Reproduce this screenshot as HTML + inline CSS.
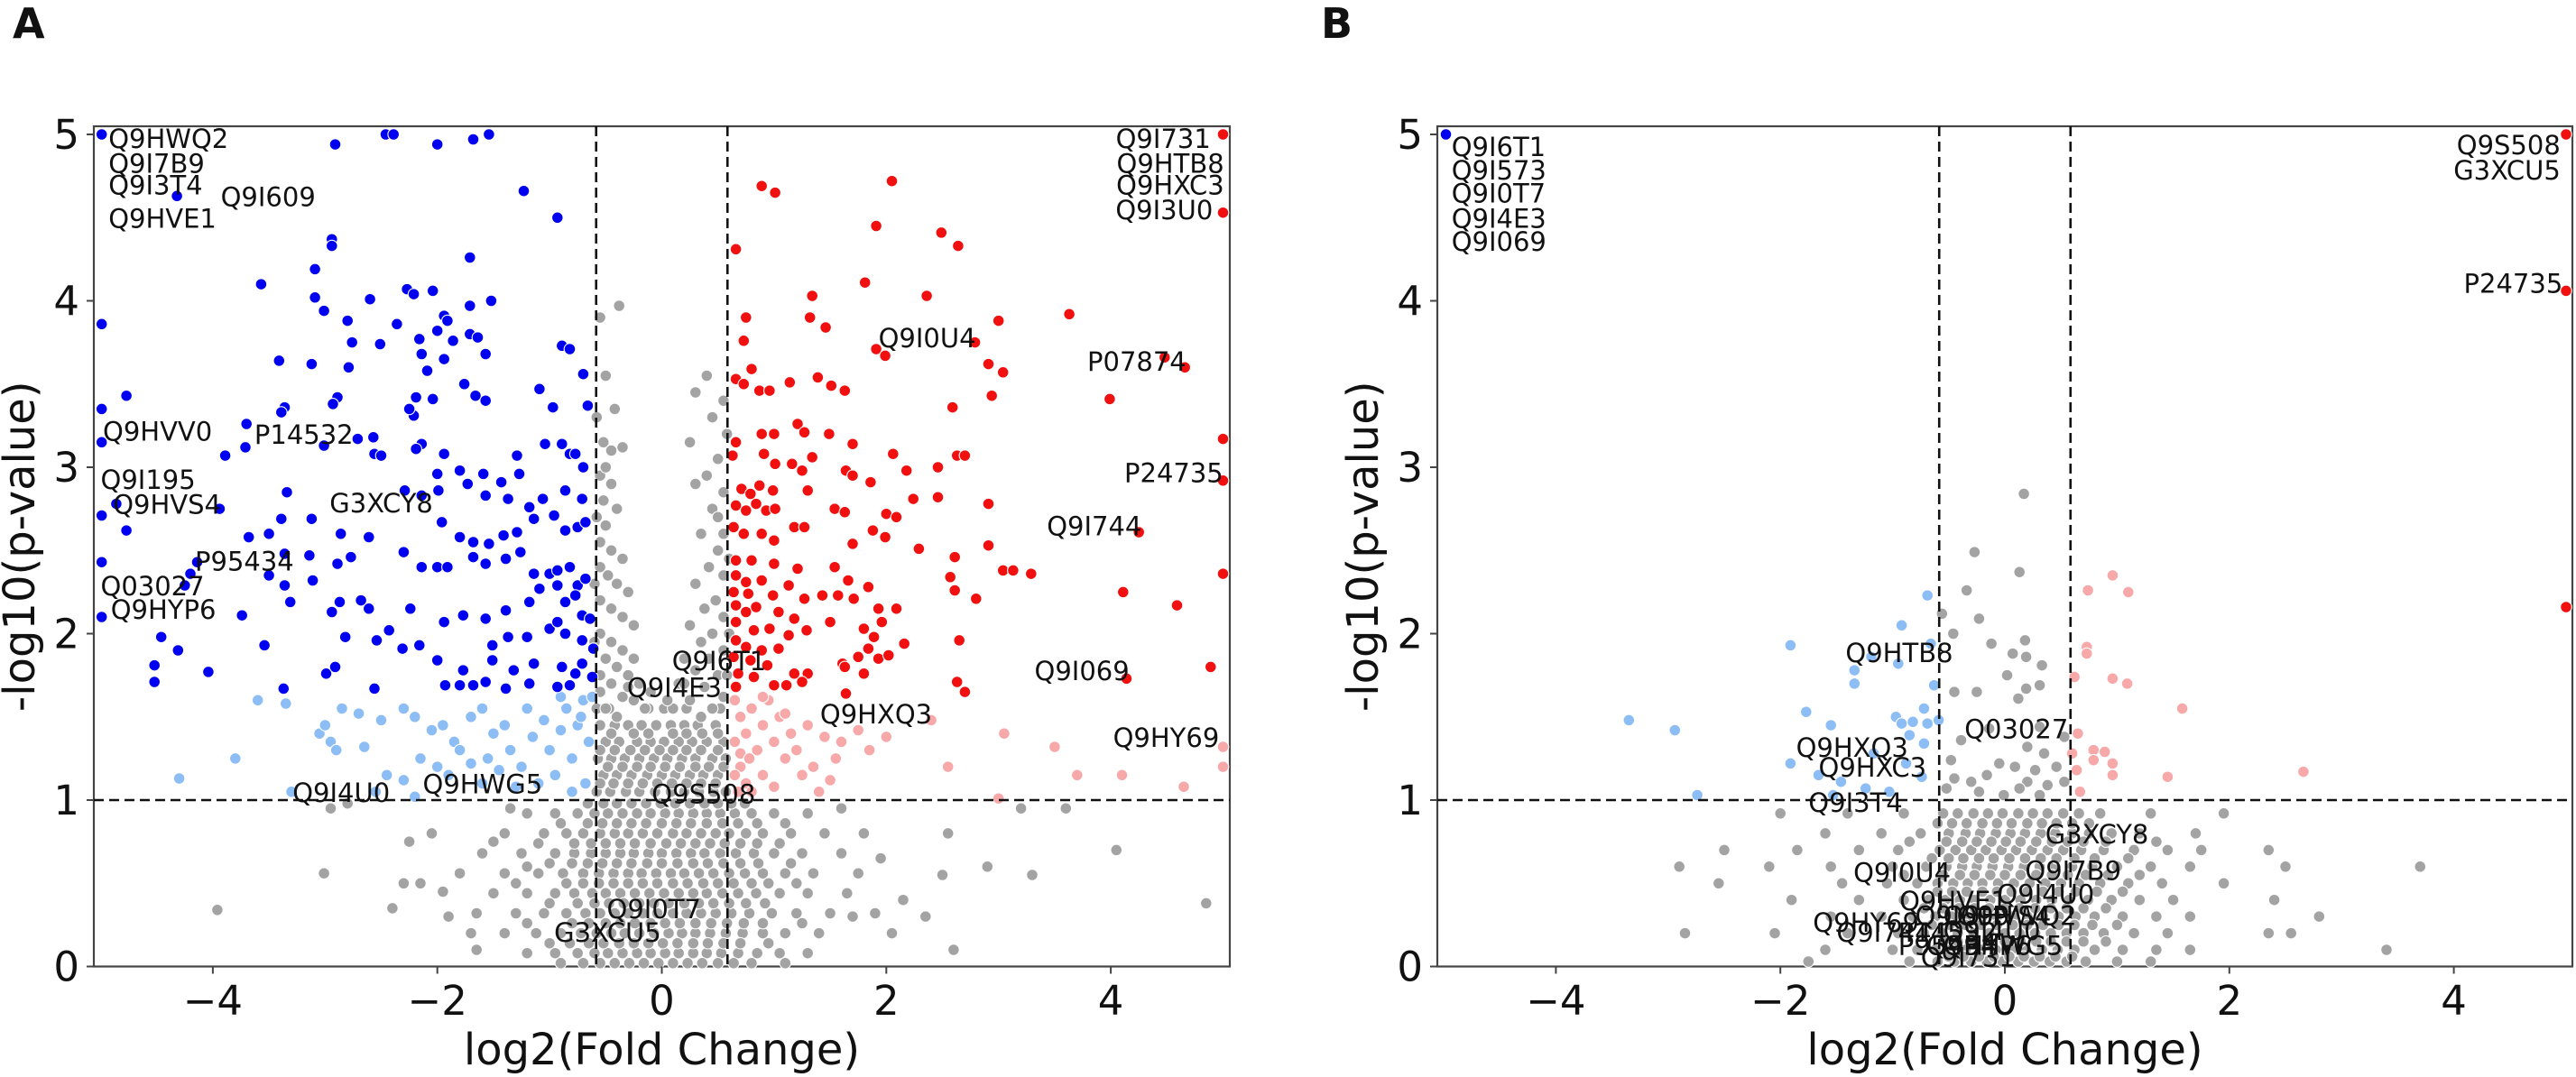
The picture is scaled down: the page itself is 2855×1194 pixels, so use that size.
<!DOCTYPE html>
<html><head><meta charset="utf-8"><style>
html,body{margin:0;padding:0;background:#fff;}
svg{display:block;}
text{font-family:"DejaVu Sans","Liberation Sans",sans-serif;fill:#111;}
</style></head><body>
<svg id="fig" xmlns="http://www.w3.org/2000/svg" width="2855" height="1194" viewBox="0 0 2855 1194">
<rect x="0" y="0" width="2855" height="1194" fill="#fff"/>
<text x="14" y="42" font-size="46" font-weight="bold">A</text>
<text x="1464" y="42" font-size="46" font-weight="bold">B</text>
<g id="panelA"></g>
<g id="panelB"></g>
</svg>
<script>
// ---------- Panel A data ----------
const aBlue = [[-4.99,5],[-2.46,5],[-2.39,5],[-1.54,5],[-1.68,4.97],[-2.0,4.94],[-2.91,4.94],[-4.32,4.63],[-1.23,4.66],[-0.93,4.5],[-2.94,4.37],[-2.94,4.33],[-1.71,4.26],[-3.09,4.19],[-3.57,4.1],[-3.09,4.02],[-2.6,4.01],[-2.27,4.07],[-2.21,4.04],[-2.04,4.06],[-3.01,3.94],[-2.8,3.88],[-4.99,3.86],[-2.36,3.86],[-1.94,3.91],[-1.91,3.88],[-1.71,3.97],[-1.52,4.0],[-2.16,3.77],[-2.0,3.82],[-1.86,3.76],[-1.71,3.8],[-1.64,3.78],[-2.76,3.75],[-2.51,3.74],[-0.89,3.73],[-0.82,3.71],[-3.41,3.64],[-3.12,3.62],[-2.79,3.6],[-2.14,3.68],[-1.94,3.65],[-1.57,3.68],[-0.7,3.56],[-2.09,3.58],[-4.77,3.43],[-4.99,3.35],[-3.36,3.36],[-3.39,3.33],[-2.89,3.42],[-2.93,3.38],[-2.19,3.42],[-2.04,3.41],[-1.76,3.5],[-1.66,3.43],[-1.57,3.4],[-1.09,3.47],[-0.97,3.36],[-0.66,3.37],[-2.21,3.31],[-2.25,3.35],[-4.99,3.15],[-3.7,3.26],[-3.01,3.13],[-2.71,3.17],[-2.57,3.18],[-2.56,3.08],[-2.5,3.07],[-2.14,3.14],[-2.19,3.11],[-1.94,3.08],[-1.29,3.07],[-1.04,3.14],[-0.89,3.14],[-0.82,3.08],[-0.77,3.08],[-3.89,3.07],[-3.71,3.12],[-0.7,3.0],[-2.0,2.96],[-1.8,2.98],[-1.59,2.96],[-1.43,2.91],[-1.27,2.96],[-2.29,2.86],[-2.14,2.83],[-1.99,2.86],[-1.73,2.9],[-1.57,2.83],[-1.37,2.81],[-1.06,2.81],[-0.86,2.86],[-0.71,2.81],[-3.34,2.85],[-3.94,2.75],[-4.99,2.71],[-4.86,2.78],[-4.77,2.62],[-3.12,2.69],[-2.86,2.6],[-2.61,2.58],[-1.96,2.67],[-1.8,2.58],[-1.68,2.55],[-1.54,2.54],[-1.41,2.59],[-1.29,2.61],[-1.18,2.76],[-1.14,2.69],[-0.96,2.71],[-0.86,2.62],[-0.75,2.64],[-0.68,2.67],[-3.39,2.69],[-3.5,2.6],[-3.68,2.58],[-4.14,2.43],[-4.2,2.36],[-3.36,2.48],[-3.14,2.47],[-3.11,2.32],[-3.36,2.29],[-3.31,2.19],[-3.5,2.35],[-2.89,2.42],[-2.77,2.46],[-2.3,2.49],[-2.14,2.4],[-2.0,2.4],[-1.91,2.4],[-1.68,2.46],[-1.57,2.42],[-1.39,2.45],[-1.26,2.49],[-1.14,2.36],[-1.0,2.36],[-0.93,2.38],[-0.82,2.4],[-0.75,2.29],[-0.68,2.33],[-4.99,2.43],[-4.25,2.29],[-4.99,2.1],[-4.46,1.98],[-4.31,1.9],[-4.52,1.81],[-4.52,1.71],[-4.04,1.77],[-3.74,2.11],[-3.54,1.93],[-3.37,1.67],[-2.99,1.76],[-2.94,2.13],[-2.87,2.19],[-2.68,2.2],[-2.61,2.15],[-2.82,1.98],[-2.54,1.96],[-2.43,2.02],[-2.24,2.15],[-2.31,1.91],[-2.16,1.93],[-1.94,2.07],[-1.77,2.11],[-1.57,2.09],[-1.39,2.14],[-1.18,2.19],[-1.09,2.27],[-0.93,2.29],[-0.86,2.19],[-0.77,2.23],[-0.71,2.11],[-0.64,2.09],[-1.51,1.93],[-1.37,1.98],[-1.2,1.98],[-1.0,2.03],[-0.93,2.07],[-0.86,2.0],[-0.71,1.96],[-0.61,1.91],[-1.51,1.84],[-1.32,1.78],[-1.14,1.82],[-0.89,1.8],[-0.77,1.76],[-0.71,1.82],[-0.62,1.74],[-2.0,1.84],[-1.77,1.78],[-1.93,1.69],[-1.8,1.69],[-1.68,1.69],[-1.57,1.71],[-1.39,1.67],[-1.18,1.7],[-0.93,1.68],[-0.82,1.69],[-2.56,1.67],[-2.91,1.8]];
const aLightBlue = [[-3.6,1.6],[-3.35,1.58],[-3.05,1.4],[-3.0,1.45],[-2.95,1.35],[-2.85,1.55],[-2.7,1.52],[-2.65,1.32],[-2.5,1.48],[-2.3,1.55],[-2.2,1.5],[-2.15,1.25],[-2.05,1.42],[-1.95,1.45],[-1.85,1.35],[-1.8,1.3],[-1.7,1.5],[-1.6,1.55],[-1.55,1.25],[-1.5,1.4],[-1.4,1.45],[-1.35,1.3],[-1.25,1.2],[-1.2,1.55],[-1.15,1.38],[-1.05,1.48],[-1.0,1.3],[-0.95,1.15],[-0.9,1.42],[-0.85,1.55],[-0.8,1.25],[-0.75,1.45],[-0.7,1.6],[-0.65,1.35],[-0.68,1.1],[-0.8,1.05],[-1.1,1.1],[-1.3,1.08],[-1.6,1.1],[-1.9,1.15],[-2.3,1.12],[-2.45,1.15],[-2.55,1.05],[-2.2,1.02],[-3.8,1.25],[-4.3,1.13],[-3.3,1.05],[-2.9,1.3],[-1.7,1.22],[-2.0,1.2],[-0.72,1.5],[-0.62,1.62],[-0.9,1.62],[-1.45,1.18]];
const aRed = [[5.0,5.0],[0.89,4.69],[1.01,4.65],[2.05,4.72],[5.0,4.53],[1.91,4.45],[2.49,4.41],[2.64,4.33],[0.66,4.31],[1.81,4.11],[1.34,4.03],[2.36,4.03],[0.75,3.9],[1.32,3.9],[1.46,3.84],[3.0,3.88],[3.63,3.92],[0.73,3.76],[1.91,3.71],[1.99,3.67],[2.79,3.75],[2.91,3.62],[3.04,3.57],[4.48,3.66],[4.66,3.6],[0.8,3.59],[0.66,3.53],[0.73,3.5],[0.87,3.46],[0.96,3.46],[1.14,3.51],[1.39,3.54],[1.51,3.49],[1.63,3.46],[2.59,3.36],[2.94,3.43],[3.99,3.41],[0.66,3.15],[0.89,3.2],[1.0,3.2],[1.21,3.26],[1.27,3.21],[1.49,3.2],[1.7,3.14],[2.06,3.08],[2.63,3.07],[2.7,3.07],[5.0,3.17],[0.63,3.07],[0.91,3.08],[1.01,3.02],[1.16,3.02],[1.25,2.98],[1.34,3.06],[1.64,2.98],[1.7,2.95],[1.86,2.91],[2.18,2.98],[2.46,3.0],[5.0,2.92],[0.71,2.87],[0.79,2.84],[0.87,2.89],[0.99,2.86],[1.3,2.86],[2.24,2.81],[2.46,2.82],[2.91,2.78],[0.66,2.77],[0.75,2.74],[0.84,2.78],[0.93,2.74],[1.01,2.75],[1.18,2.64],[1.27,2.64],[1.54,2.75],[1.63,2.73],[2.0,2.72],[2.09,2.7],[4.25,2.61],[0.64,2.64],[0.73,2.6],[0.89,2.6],[1.0,2.56],[1.88,2.62],[1.99,2.58],[1.7,2.54],[2.29,2.51],[2.91,2.53],[0.66,2.44],[0.8,2.44],[1.0,2.42],[1.21,2.39],[1.54,2.4],[2.61,2.46],[3.04,2.38],[3.13,2.38],[3.29,2.36],[5.0,2.36],[0.66,2.35],[0.75,2.31],[0.89,2.32],[1.13,2.29],[1.66,2.32],[1.84,2.28],[2.57,2.34],[2.61,2.26],[2.8,2.21],[4.11,2.25],[0.64,2.25],[0.77,2.24],[0.99,2.23],[1.27,2.21],[1.43,2.23],[1.57,2.23],[1.71,2.21],[4.59,2.17],[0.66,2.17],[0.75,2.13],[0.84,2.16],[1.04,2.13],[1.18,2.09],[1.93,2.15],[2.09,2.15],[0.66,2.07],[0.82,2.02],[0.96,2.03],[1.13,1.99],[1.29,2.02],[1.5,2.07],[1.8,2.03],[1.96,2.07],[4.89,1.8],[0.66,1.96],[0.75,1.92],[0.89,1.9],[1.04,1.91],[1.89,1.98],[2.16,1.94],[2.65,1.96],[1.84,1.91],[0.64,1.86],[0.79,1.84],[0.94,1.81],[1.61,1.82],[1.75,1.86],[1.93,1.85],[2.02,1.87],[0.68,1.76],[0.82,1.74],[1.0,1.69],[1.18,1.76],[1.3,1.76],[1.8,1.76],[1.63,1.8],[0.66,1.68],[1.11,1.69],[1.25,1.71],[1.64,1.64],[2.63,1.71],[2.7,1.65],[4.14,1.73]];
const aPink = [[0.65,1.6],[0.7,1.5],[0.75,1.4],[0.8,1.55],[0.85,1.3],[0.9,1.45],[0.95,1.6],[1.0,1.35],[1.05,1.5],[1.1,1.25],[0.7,1.2],[0.75,1.1],[0.8,1.05],[0.9,1.15],[1.0,1.08],[1.15,1.4],[1.2,1.3],[1.3,1.45],[1.35,1.2],[0.65,1.35],[0.7,1.28],[0.68,1.05],[1.25,1.15],[1.5,1.12],[1.55,1.25],[1.4,1.05],[1.6,1.35],[1.75,1.42],[2.0,1.38],[1.85,1.3],[2.4,1.48],[2.55,1.2],[3.05,1.4],[3.5,1.32],[3.7,1.15],[4.1,1.15],[4.65,1.08],[5.0,1.32],[5.0,1.2],[3.0,1.01],[1.1,1.52],[0.9,1.62],[0.78,1.25],[1.45,1.38],[0.65,1.15]];
const aGrayArms = [[-0.55,3.9],[-0.38,3.97],[-0.5,3.55],[-0.42,3.35],[-0.52,3.15],[-0.45,3.1],[-0.35,3.12],[-0.55,2.95],[-0.45,2.9],[-0.52,2.8],[-0.4,2.75],[-0.5,2.65],[-0.55,2.55],[-0.45,2.5],[-0.35,2.45],[-0.55,2.4],[-0.48,2.35],[-0.4,2.3],[-0.3,2.25],[-0.55,2.2],[-0.45,2.15],[-0.35,2.1],[-0.25,2.05],[-0.55,2.0],[-0.45,1.95],[-0.35,1.9],[-0.25,1.85],[-0.5,1.85],[-0.4,1.8],[-0.55,1.75],[-0.3,1.75],[-0.2,1.7],[-0.45,1.7],[-0.55,1.65],[-0.35,1.62],[-0.25,1.6],[-0.15,1.55],[-0.5,1.55],[-0.4,1.5],[0.4,3.55],[0.3,3.45],[0.55,3.4],[0.45,3.3],[0.25,3.15],[0.5,3.05],[0.4,2.95],[0.55,2.85],[0.3,2.9],[0.45,2.75],[0.55,2.6],[0.35,2.6],[0.5,2.5],[0.42,2.4],[0.55,2.35],[0.3,2.3],[0.48,2.2],[0.38,2.15],[0.55,2.1],[0.25,2.05],[0.45,2.0],[0.35,1.95],[0.55,1.9],[0.2,1.85],[0.42,1.85],[0.3,1.78],[0.5,1.75],[0.15,1.7],[0.38,1.68],[0.55,1.62],[0.25,1.6],[0.1,1.55],[0.45,1.55],[0.35,1.5],[-0.58,3.3],[-0.5,3.0],[-0.58,2.7],[-0.6,2.3],[-0.6,1.95],[0.58,3.2],[0.5,2.7],[0.6,2.45],[0.6,2.0],[0.58,1.75],[-0.1,1.65],[0.05,1.6],[-0.3,1.68],[0.2,1.7],[-2.95,0.95],[-2.8,0.98],[-3.01,0.56],[-3.96,0.34],[-2.25,0.75],[-2.3,0.5],[-2.4,0.35],[-2.15,0.5],[-1.95,0.45],[-1.7,0.2],[-1.9,0.3],[-1.65,0.1],[-2.05,0.8],[-1.5,0.75],[-1.35,0.95],[-1.2,0.6],[1.8,0.8],[1.95,0.65],[2.15,0.4],[2.35,0.3],[2.5,0.55],[2.6,0.1],[2.9,0.6],[3.2,0.95],[2.55,0.8],[1.7,0.3],[1.6,0.95],[2.05,0.2],[4.05,0.7],[4.85,0.38],[3.6,0.95],[3.3,0.55]];
const aGrayRowY = [1.45,1.35,1.25,1.15,1.05,0.92,0.8,0.68,0.56,0.44,0.32,0.2,0.08,1.55,1.4,1.3,1.2,1.1,0.98,0.86,0.74,0.62,0.5,0.38,0.26,0.14,0.02];
const aGrayRowX = [
 [-0.55,-0.42,-0.3,-0.18,-0.05,0.08,0.2,0.32,0.48],
 [-0.5,-0.38,-0.22,-0.1,0.02,0.15,0.27,0.4,0.55],
 [-0.57,-0.45,-0.33,-0.2,-0.07,0.05,0.18,0.3,0.45,0.57],
 [-0.52,-0.4,-0.27,-0.13,0.0,0.12,0.25,0.37,0.5],
 [-0.58,-0.46,-0.32,-0.2,-0.06,0.08,0.2,0.33,0.46,0.57],
 [-1.2,-0.95,-0.75,-0.6,-0.48,-0.35,-0.22,-0.1,0.03,0.15,0.28,0.4,0.52,0.65,0.8,1.0,1.3],
 [-1.4,-1.05,-0.85,-0.7,-0.55,-0.42,-0.3,-0.17,-0.04,0.1,0.22,0.35,0.48,0.6,0.75,0.9,1.15,1.45],
 [-1.6,-1.25,-0.95,-0.78,-0.63,-0.5,-0.37,-0.25,-0.12,0.0,0.13,0.26,0.38,0.52,0.66,0.82,1.0,1.25,1.6],
 [-1.8,-1.4,-1.1,-0.88,-0.7,-0.56,-0.43,-0.3,-0.18,-0.05,0.08,0.2,0.33,0.46,0.6,0.74,0.9,1.1,1.35,1.75],
 [-1.5,-1.2,-0.95,-0.78,-0.62,-0.5,-0.37,-0.24,-0.11,0.02,0.15,0.28,0.4,0.54,0.68,0.84,1.05,1.3,1.65],
 [-1.65,-1.3,-1.05,-0.85,-0.68,-0.55,-0.42,-0.3,-0.17,-0.04,0.1,0.22,0.35,0.48,0.62,0.78,0.98,1.2,1.5,1.9],
 [-1.4,-1.12,-0.9,-0.72,-0.58,-0.45,-0.33,-0.2,-0.07,0.06,0.18,0.3,0.43,0.57,0.72,0.9,1.1,1.4],
 [-1.2,-0.95,-0.75,-0.6,-0.48,-0.35,-0.22,-0.1,0.03,0.15,0.28,0.4,0.53,0.68,0.85,1.05,1.3],
 [-0.58,-0.47,-0.12,0.02,0.22,0.52],
 [-0.45,-0.25,-0.12,0.1,0.22,0.36,0.5],
 [-0.55,-0.42,-0.28,-0.15,-0.02,0.1,0.22,0.35,0.5],
 [-0.48,-0.35,-0.22,-0.1,0.03,0.16,0.3,0.42,0.55],
 [-0.55,-0.43,-0.3,-0.17,-0.04,0.09,0.22,0.35,0.48],
 [-0.66,-0.52,-0.4,-0.27,-0.14,-0.01,0.12,0.25,0.38,0.5,0.62,0.74],
 [-0.9,-0.66,-0.53,-0.4,-0.27,-0.14,0.0,0.13,0.26,0.4,0.54,0.68,0.85,1.1],
 [-1.1,-0.78,-0.63,-0.5,-0.37,-0.24,-0.1,0.04,0.17,0.3,0.43,0.56,0.7,0.85,1.05],
 [-1.0,-0.8,-0.66,-0.53,-0.4,-0.27,-0.13,0.0,0.14,0.28,0.41,0.55,0.7,0.86,1.15],
 [-1.3,-0.85,-0.7,-0.56,-0.43,-0.3,-0.17,-0.04,0.1,0.23,0.37,0.5,0.64,0.8,0.95,1.2],
 [-1.0,-0.75,-0.6,-0.47,-0.34,-0.2,-0.07,0.06,0.2,0.33,0.46,0.6,0.75,0.92],
 [-1.2,-0.8,-0.65,-0.5,-0.37,-0.24,-0.1,0.03,0.16,0.3,0.44,0.58,0.73,0.9,1.25],
 [-1.0,-0.82,-0.65,-0.52,-0.38,-0.25,-0.12,0.01,0.14,0.28,0.41,0.55,0.7,0.95],
 [-0.9,-0.7,-0.55,-0.42,-0.29,-0.16,-0.03,0.1,0.23,0.36,0.5,0.64,0.8,1.1]
];
const aLabels = [["Q9HWQ2",-4.93,4.92,"start"],["Q9I7B9",-4.93,4.77,"start"],["Q9I3T4",-4.93,4.64,"start"],["Q9HVE1",-4.93,4.44,"start"],["Q9I609",-3.93,4.57,"start"],["Q9HVV0",-4.98,3.16,"start"],["P14532",-3.63,3.14,"start"],["Q9I195",-5.0,2.87,"start"],["Q9HVS4",-4.89,2.72,"start"],["G3XCY8",-2.96,2.73,"start"],["P95434",-4.16,2.38,"start"],["Q03027",-5.0,2.23,"start"],["Q9HYP6",-4.91,2.09,"start"],["Q9I6T1",0.09,1.78,"start"],["Q9I4E3",-0.31,1.62,"start"],["Q9HXQ3",1.41,1.46,"start"],["Q9I4U0",-3.29,0.99,"start"],["Q9HWG5",-2.13,1.04,"start"],["Q9S508",-0.09,0.98,"start"],["Q9I0T7",-0.49,0.29,"start"],["G3XCU5",-0.96,0.15,"start"],["Q9I731",4.89,4.92,"end"],["Q9HTB8",5.01,4.77,"end"],["Q9HXC3",5.01,4.64,"end"],["Q9I3U0",4.91,4.49,"end"],["Q9I0U4",1.93,3.72,"start"],["P07874",3.79,3.58,"start"],["P24735",4.12,2.91,"start"],["Q9I744",3.43,2.59,"start"],["Q9I069",3.32,1.72,"start"],["Q9HY69",4.02,1.32,"start"]];

// ---------- Panel B data ----------
const bBlue = [[-4.98,5.0]];
const bRed = [[5.0,5.0],[5.0,4.06],[5.0,2.16]];
const bLightBlue = [[-3.35,1.48],[-2.94,1.42],[-2.74,1.03],[-1.91,1.93],[-1.91,1.22],[-1.77,1.53],[-1.66,1.15],[-1.55,1.45],[-1.46,1.11],[-1.34,1.78],[-1.34,1.7],[-1.19,1.86],[-0.95,1.82],[-0.92,2.05],[-0.69,2.23],[-0.97,1.5],[-0.92,1.46],[-0.82,1.47],[-0.72,1.55],[-0.69,1.46],[-0.63,1.69],[-0.59,1.48],[-0.85,1.39],[-0.72,1.34],[-0.88,1.22],[-0.74,1.14],[-1.24,1.07],[-1.03,1.05],[-1.53,1.03],[-1.17,1.28],[-0.66,1.94]];
const bPink = [[0.74,2.26],[0.96,2.35],[1.1,2.25],[0.73,1.92],[0.73,1.88],[0.62,1.74],[0.96,1.73],[1.09,1.7],[1.58,1.55],[0.65,1.4],[0.79,1.3],[0.89,1.29],[0.79,1.24],[0.96,1.22],[0.96,1.15],[1.45,1.14],[2.66,1.17],[0.67,1.05],[0.64,1.18],[0.6,1.28]];
const bGrayScatter = [[0.17,2.84],[-0.27,2.49],[-0.34,2.26],[0.13,2.37],[-0.56,2.12],[-0.23,2.09],[-0.46,2.0],[-0.12,1.94],[0.18,1.96],[0.07,1.88],[0.19,1.86],[0.33,1.81],[0.02,1.75],[0.19,1.67],[0.31,1.69],[-0.45,1.65],[-0.25,1.65],[0.12,1.61],[-0.14,1.43],[0.31,1.44],[0.53,1.38],[-0.39,1.36],[0.2,1.32],[0.35,1.28],[-0.48,1.24],[-0.05,1.22],[0.09,1.2],[0.27,1.18],[0.46,1.2],[-0.45,1.13],[-0.3,1.11],[-0.16,1.15],[0.2,1.11],[0.38,1.09],[0.53,1.11],[-0.52,1.07],[-0.23,1.05],[-0.01,1.03],[0.13,1.07],[0.31,1.03]];
const bGrayRowY = [0.92,0.8,0.7,0.6,0.5,0.4,0.3,0.2,0.1,0.03,0.86,0.75,0.65,0.55,0.45,0.35,0.25,0.15,0.06];
const bGrayRowX = [
 [-2.0,-1.4,-0.9,-0.55,-0.42,-0.28,-0.15,-0.02,0.12,0.25,0.38,0.52,0.66,0.85,1.3,1.95],
 [-1.6,-1.1,-0.75,-0.5,-0.35,-0.22,-0.08,0.05,0.18,0.32,0.45,0.6,0.75,0.95,1.2,1.7],
 [-2.5,-1.85,-1.3,-0.95,-0.58,-0.44,-0.3,-0.17,-0.03,0.1,0.24,0.38,0.52,0.68,0.88,1.15,1.45,1.75,2.35],
 [-2.9,-2.1,-1.55,-1.0,-0.7,-0.52,-0.38,-0.25,-0.11,0.03,0.17,0.31,0.45,0.6,0.78,1.0,1.3,1.65,2.5,3.7],
 [-2.55,-1.45,-1.05,-0.78,-0.6,-0.46,-0.33,-0.2,-0.06,0.08,0.22,0.36,0.5,0.66,0.85,1.1,1.4,1.95],
 [-1.9,-1.3,-0.9,-0.68,-0.53,-0.4,-0.27,-0.13,0.0,0.14,0.28,0.42,0.57,0.74,0.95,1.2,1.5,2.4],
 [-1.55,-1.1,-0.82,-0.62,-0.47,-0.34,-0.2,-0.07,0.07,0.2,0.34,0.48,0.63,0.8,1.05,1.35,1.65,2.8],
 [-2.85,-2.05,-1.4,-0.95,-0.72,-0.56,-0.42,-0.28,-0.14,0.0,0.13,0.27,0.41,0.55,0.7,0.88,1.15,1.45,2.35,2.55],
 [-1.6,-1.0,-0.78,-0.62,-0.48,-0.35,-0.21,-0.08,0.06,0.19,0.33,0.47,0.62,0.8,1.05,1.35,1.65,3.4],
 [-1.75,-0.85,-0.6,-0.45,-0.3,-0.16,-0.02,0.12,0.26,0.4,0.55,0.72,1.0,1.3],
 [-0.6,-0.47,-0.34,-0.2,-0.07,0.06,0.2,0.33,0.46,0.6,0.75],
 [-0.85,-0.52,-0.38,-0.25,-0.12,0.01,0.14,0.28,0.42,0.56,0.7,0.9,1.35],
 [-0.65,-0.5,-0.37,-0.23,-0.1,0.04,0.18,0.32,0.46,0.62,0.8,1.1],
 [-0.9,-0.55,-0.4,-0.27,-0.13,0.0,0.14,0.28,0.42,0.56,0.72,0.92,1.2],
 [-0.6,-0.47,-0.34,-0.2,-0.07,0.06,0.2,0.34,0.48,0.63,0.82,1.05],
 [-0.72,-0.55,-0.41,-0.27,-0.14,0.0,0.13,0.27,0.41,0.55,0.7,0.9],
 [-0.65,-0.49,-0.35,-0.21,-0.07,0.07,0.2,0.34,0.48,0.62,0.78,1.0],
 [-0.55,-0.42,-0.28,-0.14,0.0,0.14,0.28,0.41,0.55,0.7,0.9],
 [-0.5,-0.37,-0.23,-0.1,0.04,0.17,0.31,0.45,0.6]
];
const bLabels = [["Q9I6T1",-4.93,4.87,"start"],["Q9I573",-4.93,4.73,"start"],["Q9I0T7",-4.93,4.59,"start"],["Q9I4E3",-4.93,4.44,"start"],["Q9I069",-4.93,4.30,"start"],["Q9S508",4.95,4.88,"end"],["G3XCU5",4.95,4.73,"end"],["P24735",4.97,4.05,"end"],["Q9HTB8",-1.42,1.83,"start"],["Q03027",-0.36,1.37,"start"],["Q9HXQ3",-1.86,1.26,"start"],["Q9HXC3",-1.66,1.14,"start"],["Q9I3T4",-1.75,0.93,"start"],["G3XCY8",0.36,0.74,"start"],["Q9I0U4",-1.35,0.51,"start"],["Q9I7B9",0.18,0.52,"start"],["Q9I4U0",-0.07,0.38,"start"],["Q9HVE1",-0.94,0.34,"start"],["Q9HWQ2",0.64,0.25,"end"],["Q9I609",-0.8,0.25,"start"],["Q9HVS4",-0.55,0.25,"start"],["Q9HY69",-1.71,0.21,"start"],["Q9I744",-1.5,0.15,"start"],["P14532",-0.95,0.15,"start"],["Q9I4U0",-0.55,0.16,"start"],["P95434",-0.95,0.07,"start"],["Q9HYP6",-0.7,0.07,"start"],["Q9HWG5",-0.55,0.07,"start"],["Q9I731",-0.75,0.0,"start"]];

const xTicks = [-4,-2,0,2,4];
const yTicks = [0,1,2,3,4,5];
const xTickText = ["\u22124","\u22122","0","2","4"];
const yTickText = ["0","1","2","3","4","5"];

const NS = "http://www.w3.org/2000/svg";
const COL = {blue:"#0000f0", lightblue:"#8cbdf5", red:"#f01010", pink:"#f7a8a8", gray:"#a3a3a3"};

function mk(tag, attrs, parent){
  const e = document.createElementNS(NS, tag);
  for (const k in attrs) e.setAttribute(k, attrs[k]);
  parent.appendChild(e);
  return e;
}

function drawPanel(g, x0, pxPerUnit, left, right, series, grayRowsY, grayRowsX, labels){
  const top = 140, bottom = 1071.5, yPer = 184.5;
  const sx = v => x0 + pxPerUnit * v;
  const sy = v => bottom - yPer * v;
  const frame = mk("rect", {x:left, y:top, width:right-left, height:bottom-top, fill:"none", stroke:"#444", "stroke-width":2.2}, g);
  
  
  const dots = mk("g", {}, g);
  
  
  function dot(p, col, name){
    const c = mk("circle", {cx:sx(p[0]).toFixed(1), cy:sy(p[1]).toFixed(1), r:6.3, fill:col, stroke:"#fff", "stroke-width":1.1}, dots);
    
    
  }
  for (let i = 0; i < grayRowsY.length; i++) {
    for (const xv of grayRowsX[i]) dot([xv, grayRowsY[i]], COL.gray, 'point-not-significant');
  }
  for (const s of series) {
    for (const p of s.data) dot(p, s.color, s.name);
  }
  const thr = [[sx(-0.585), top, sx(-0.585), bottom],[sx(0.585), top, sx(0.585), bottom],[left, sy(1), right, sy(1)]];
  thr.forEach((l, i) => {
    const ln = mk("line", {x1:l[0], y1:l[1], x2:l[2], y2:l[3], stroke:"#111", "stroke-width":2.6, "stroke-dasharray":"11,6"}, g);
    
    
  });
  xTicks.forEach((t, i) => {
    const tk = mk("line", {x1:sx(t), y1:bottom, x2:sx(t), y2:bottom+8, stroke:"#444", "stroke-width":2}, g);
    
    
    const tx = mk("text", {x:sx(t), y:1125, "font-size":45, "text-anchor":"middle"}, g);
    tx.textContent = xTickText[i];
    
    
  });
  yTicks.forEach((t, i) => {
    const tk = mk("line", {x1:left-8, y1:sy(t), x2:left, y2:sy(t), stroke:"#444", "stroke-width":2}, g);
    
    
    const tx = mk("text", {x:left-16, y:sy(t)+16, "font-size":45, "text-anchor":"end"}, g);
    tx.textContent = yTickText[i];
    
    
  });
  const xt = mk("text", {x:sx(0), y:1180, "font-size":48, "text-anchor":"middle"}, g);
  xt.textContent = "log2(Fold Change)";
  
  
  const ycx = left - 66, ycy = (top + bottom) / 2;
  const yt = mk("text", {x:ycx, y:ycy, "font-size":48, "text-anchor":"middle", transform:"rotate(-90 " + ycx + " " + ycy + ")"}, g);
  yt.textContent = "-log10(p-value)";
  
  
  for (const L of labels) {
    const t = mk("text", {x:sx(L[1]).toFixed(1), y:sy(L[2]).toFixed(1), "font-size":29, "text-anchor":L[3]}, g);
    t.textContent = L[0];
    
    
  }
}

const gA = document.getElementById("panelA");
drawPanel(gA, 733.5, 124.4, 104, 1363,
  [{data:aGrayArms, color:COL.gray, name:'point-not-significant'},
   {data:aLightBlue, color:COL.lightblue, name:'point-down-weak'},
   {data:aPink, color:COL.pink, name:'point-up-weak'},
   {data:aBlue, color:COL.blue, name:'point-down-significant'},
   {data:aRed, color:COL.red, name:'point-up-significant'}],
  aGrayRowY, aGrayRowX, aLabels);

const gB = document.getElementById("panelB");
drawPanel(gB, 2222, 124.4, 1593, 2851,
  [{data:bGrayScatter, color:COL.gray, name:'point-not-significant'},
   {data:bLightBlue, color:COL.lightblue, name:'point-down-weak'},
   {data:bPink, color:COL.pink, name:'point-up-weak'},
   {data:bBlue, color:COL.blue, name:'point-down-significant'},
   {data:bRed, color:COL.red, name:'point-up-significant'}],
  bGrayRowY, bGrayRowX, bLabels);
</script>
</body></html>
